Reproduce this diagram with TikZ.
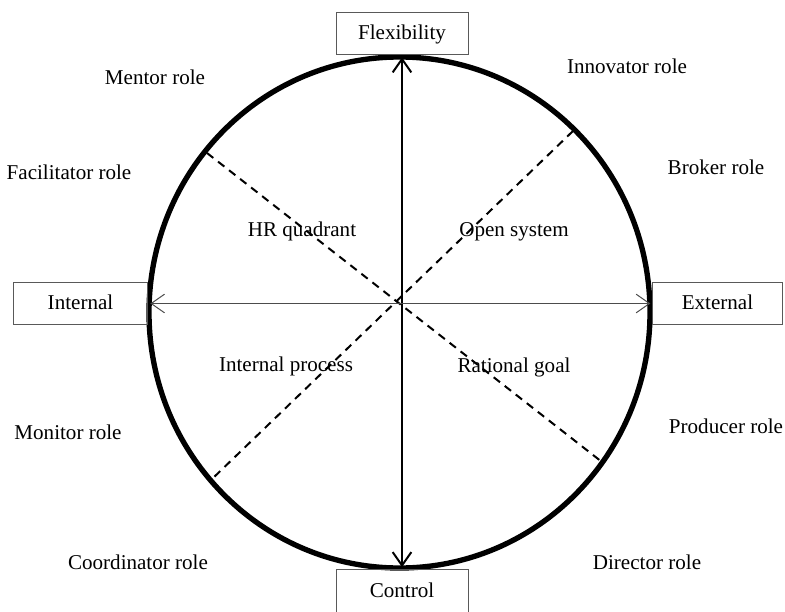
\documentclass[tikz,border=0pt]{standalone}
\usepackage{fontspec}
\setmainfont{Liberation Serif}
\usetikzlibrary{positioning, arrows.meta}
\tikzset{
every node/.style={font=\fontsize{15.8}{19}\selectfont, text height=0.95em, text depth=0pt}, % sets the text for every label
axisbox/.style={draw=gray!70!black, line width=0.75pt, minimum width=99pt, minimum height=32pt}, % the four boxes on the axes
rim/.style={line width=4pt}, % the thick circle
axisarrow/.style={<->, >={Straight Barb[length=10pt, width=14pt]}, shorten <=1.5pt, shorten >=1.5pt}, % double arrows through the centre
diag/.style={line width=1.5pt, dash pattern=on 6pt off 4.5pt}, % dashed diagonals
}

\begin{document}
\begin{tikzpicture}[x=0.75pt, y=-0.75pt]
                \useasboundingbox (0,0) rectangle (785,611);
                \draw[rim] (399.5,312.5) ellipse [x radius=250.5, y radius=255.5];

                \node[axisbox] (flex) at (402,33.5) {Flexibility};
                \node[axisbox] (ctrl) at (402,591) {Control};
                \node[axisbox, minimum width=101pt] (intl) at (80.5,303.5) {Internal};
                \node[axisbox, minimum width=97pt] (extl) at (717.5,303.5) {External};

                \coordinate (ul) at (207,153);
                \coordinate (ur) at (573,131);
                \coordinate (ll) at (212,479);
                \coordinate (lr) at (602,462);

                \node (mentor) at (155,78) {Mentor role};
                \node (innov) at (627,67) {Innovator role};
                \node (facil) at (69,173) {Facilitator role};
                \node (broker) at (716,168) {Broker role};
                \node (monitor) at (68,433) {Monitor role};
                \node (producer) at (726,427) {Producer role};
                \node (coord) at (138,563) {Coordinator role};
                \node (director) at (647,563) {Director role};

                \node (hr) at (302,230) {HR quadrant};
                \node (open) at (514,230) {Open system};
                \node (intproc) at (286,365) {Internal process};
                \node (ratgoal) at (514,366) {Rational goal};

                \draw[diag] (ul) -- (lr);
                \draw[diag] (ur) -- (ll);
                \draw
                    (flex.south) edge[axisarrow, line width=1.5pt] (ctrl.north)
                    (intl.east) edge[axisarrow, draw=gray!60!black, line width=0.75pt] (extl.west)
                    ;
\end{tikzpicture}
\end{document}
